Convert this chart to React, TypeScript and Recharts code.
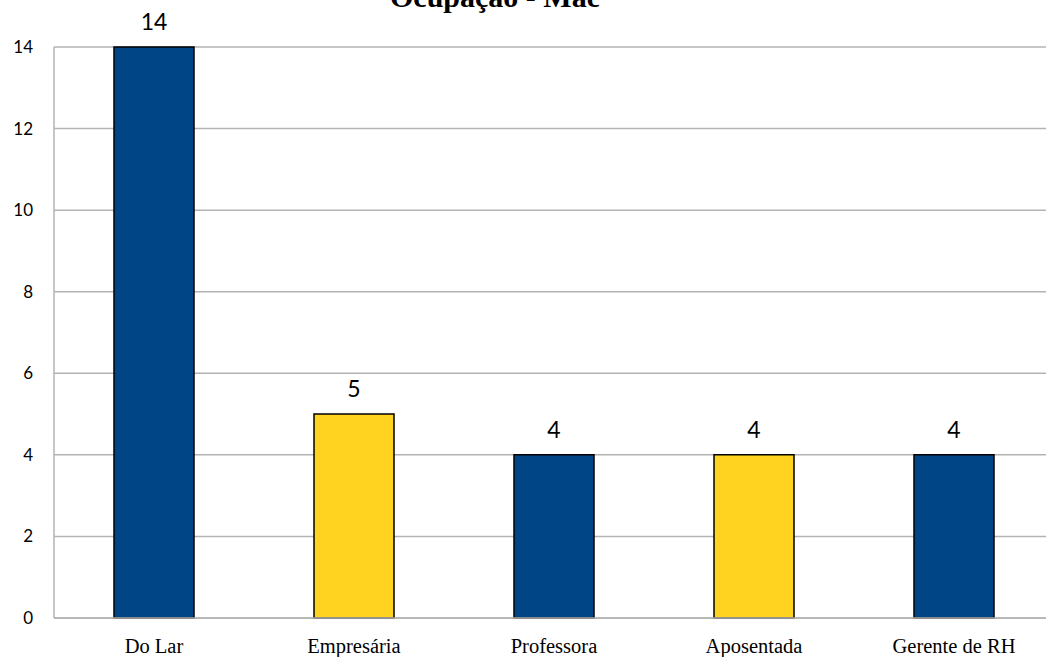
import React from "react";
import { BarChart, Bar, XAxis, YAxis, CartesianGrid, LabelList, Cell } from "recharts";

const categories = ["Do Lar", "Empresária", "Professora", "Aposentada", "Gerente de RH"];
const counts = [14, 5, 4, 4, 4];
const barColors = ["#004586", "#ffd320", "#004586", "#ffd320", "#004586"];
const yTicks = [0, 2, 4, 6, 8, 10, 12, 14];
const title = "Ocupação - Mãe";

const data = categories.map((name, i) => ({ name, value: counts[i] }));

const sans = "Lato, 'Open Sans', sans-serif";
const serif = "'Liberation Serif', 'Times New Roman', serif";

const YTick = (props: any) => {
  const { y, payload } = props;
  return (
    <text x={33} y={y} dy={6} textAnchor="end" fontFamily={sans} fontSize={17} fill="#000">
      {payload.value}
    </text>
  );
};

const XTick = (props: any) => {
  const { x, y, payload } = props;
  return (
    <text x={x} y={y} dy={27} textAnchor="middle" fontFamily={serif} fontSize={20.5} fill="#000">
      {payload.value}
    </text>
  );
};

export default function App() {
  return (
    <div
      style={{
        position: "absolute",
        left: 0,
        top: 0,
        width: 1046,
        height: 657,
        overflow: "hidden",
        background: "#fff",
      }}
    >
      <BarChart
        width={1100}
        height={657}
        data={data}
        margin={{ top: 47, right: 46, left: 0, bottom: 0 }}
        barCategoryGap="30%"
      >
        <text x={495} y={7} textAnchor="middle" fontFamily={serif} fontWeight="bold" fontSize={30} fill="#000">
          {title}
        </text>
        <CartesianGrid vertical={false} stroke="#b3b3b3" strokeWidth={1.5} />
        <XAxis
          dataKey="name"
          height={39}
          tickLine={false}
          axisLine={{ stroke: "#b3b3b3", strokeWidth: 1.5 }}
          tick={<XTick />}
          interval={0}
        />
        <YAxis
          width={54}
          domain={[0, 14]}
          ticks={yTicks}
          tickLine={false}
          axisLine={{ stroke: "#b3b3b3", strokeWidth: 1.5 }}
          tick={<YTick />}
        />
        <Bar dataKey="value" isAnimationActive={false} stroke="#000" strokeWidth={1.5}>
          {data.map((d, i) => (
            <Cell key={d.name} fill={barColors[i]} />
          ))}
          <LabelList
            dataKey="value"
            position="top"
            offset={17}
            fontFamily={sans}
            fontSize={23}
            fill="#000"
          />
        </Bar>
      </BarChart>
    </div>
  );
}
